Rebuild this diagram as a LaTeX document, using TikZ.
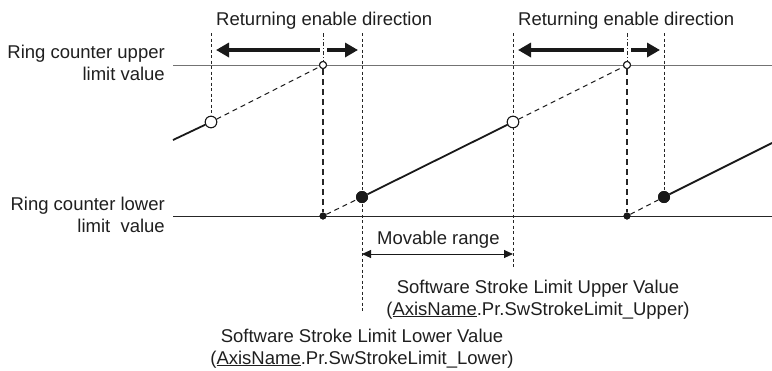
\documentclass[tikz,border=0pt]{standalone}
\usepackage{fontspec}
\setmainfont{Liberation Sans}
\usetikzlibrary{arrows.meta}
\begin{document}
\begin{tikzpicture}[x=1pt,y=-1pt,
  lbl/.style={font=\fontsize{18.5}{22}\selectfont, inner sep=0pt, text=black!88},
  guide/.style={line width=0.7pt, dash pattern=on 3pt off 2.5pt, black!85},
  guidedd/.style={line width=0.7pt, dash pattern=on 4pt off 2pt on 1pt off 2pt, black!85},
  guidebold/.style={line width=1.3pt, dash pattern=on 6pt off 4pt, black!85},
  ramp/.style={line width=1.8pt, black!90},
  rampdash/.style={line width=1pt, dash pattern=on 5pt off 4pt, black!90},
  bigarrow/.style={line width=3.8pt, black!90},
  opendot/.style={circle, draw=black!90, fill=white, line width=1pt, inner sep=0pt, minimum size=#1},
  filldot/.style={circle, fill=black!90, inner sep=0pt, minimum size=#1},
]
\useasboundingbox (0,0) rectangle (772,370);

% limit lines
\coordinate (ul0) at (173,65);
\coordinate (ul1) at (772,65);
\coordinate (ll0) at (173,216);
\coordinate (ll1) at (772,216);
\draw[line width=1pt, black!55] (ul0) -- (ul1);
\draw[line width=1pt, black!85] (ll0) -- (ll1);

% vertical guide coordinates
\coordinate (t1) at (211,33);
\coordinate (t2) at (323,33);
\coordinate (t3) at (362,33);
\coordinate (t4) at (513,33);
\coordinate (t5) at (627,33);
\coordinate (t6) at (664,33);
\coordinate (b3) at (362,313);
\coordinate (b4) at (513,268);

% dots
\coordinate (s0) at (173,140);
\coordinate (e0) at (772,143);
\node[opendot=11.5pt] (o1) at (211,122) {};
\node[opendot=7pt] (u1) at (323,65) {};
\node[filldot=7pt] (l1) at (323,216) {};
\node[filldot=12pt] (f1) at (362,197) {};
\node[opendot=11.5pt] (o2) at (513,122) {};
\node[opendot=7pt] (u2) at (627,65) {};
\node[filldot=7pt] (l2) at (627,216) {};
\node[filldot=12pt] (f2) at (664,197) {};

% guides
\draw[guide] (t1) -- (o1);
\draw[guidedd] (t2) -- (u1);
\draw[guidebold] (u1) -- (l1);
\draw[guide] (t3) -- (b3);
\draw[guide] (t4) -- (b4);
\draw[guidedd] (t5) -- (u2);
\draw[guidebold] (u2) -- (l2);
\draw[guide] (t6) -- (f2);

% ramps
\draw[ramp] (s0) -- (o1);
\draw[rampdash] (o1) -- (u1);
\draw[rampdash] (l1) -- (f1);
\draw[ramp] (f1) -- (o2);
\draw[rampdash] (o2) -- (u2);
\draw[rampdash] (l2) -- (f2);
\draw[ramp] (f2) -- (e0);

% redraw dots on top
\node[opendot=11.5pt] at (o1) {};
\node[opendot=7pt] at (u1) {};
\node[filldot=7pt] at (l1) {};
\node[filldot=12pt] at (f1) {};
\node[opendot=11.5pt] at (o2) {};
\node[opendot=7pt] at (u2) {};
\node[filldot=7pt] at (l2) {};
\node[filldot=12pt] at (f2) {};

% returning enable direction arrows
\coordinate (a1l) at (216,50);
\coordinate (a1m) at (319.5,50);
\coordinate (a1n) at (327,50);
\coordinate (a1r) at (358,50);
\coordinate (a2l) at (518,50);
\coordinate (a2m) at (623.5,50);
\coordinate (a2n) at (631,50);
\coordinate (a2r) at (660,50);
\draw[bigarrow, {Triangle[length=13pt,width=14pt]}-] (a1l) -- (a1m);
\draw[bigarrow, -{Triangle[length=13pt,width=14pt]}] (a1n) -- (a1r);
\draw[bigarrow, {Triangle[length=13pt,width=14pt]}-] (a2l) -- (a2m);
\draw[bigarrow, -{Triangle[length=13pt,width=14pt]}] (a2n) -- (a2r);

% movable range arrow
\coordinate (m0) at (362,254);
\coordinate (m1) at (513,254);
\draw[line width=1pt, black!90, {Triangle[length=9pt,width=8pt]}-{Triangle[length=9pt,width=8pt]}] (m0) -- (m1);

% labels
\node[lbl, anchor=base west] (red1) at (216,25) {Returning enable direction};
\node[lbl, anchor=base west] (red2) at (518,25) {Returning enable direction};
\node[lbl, anchor=base east] (ru1) at (165,58) {Ring counter upper};
\node[lbl, anchor=base east] (ru2) at (165,80) {limit value};
\node[lbl, anchor=base east] (rl1) at (165,210) {Ring counter lower};
\node[lbl, anchor=base east] (rl2) at (165,232) {limit~~value};
\node[lbl, anchor=base west] (mv) at (377,244) {Movable range};
\node[lbl, anchor=base] (su1) at (538,293) {Software Stroke Limit Upper Value};
\node[lbl, anchor=base] (su2) at (538,315) {(\underline{AxisName}.Pr.SwStrokeLimit\_Upper)};
\node[lbl, anchor=base] (sl1) at (362,342) {Software Stroke Limit Lower Value};
\node[lbl, anchor=base] (sl2) at (362,364) {(\underline{AxisName}.Pr.SwStrokeLimit\_Lower)};
\end{tikzpicture}
\end{document}
